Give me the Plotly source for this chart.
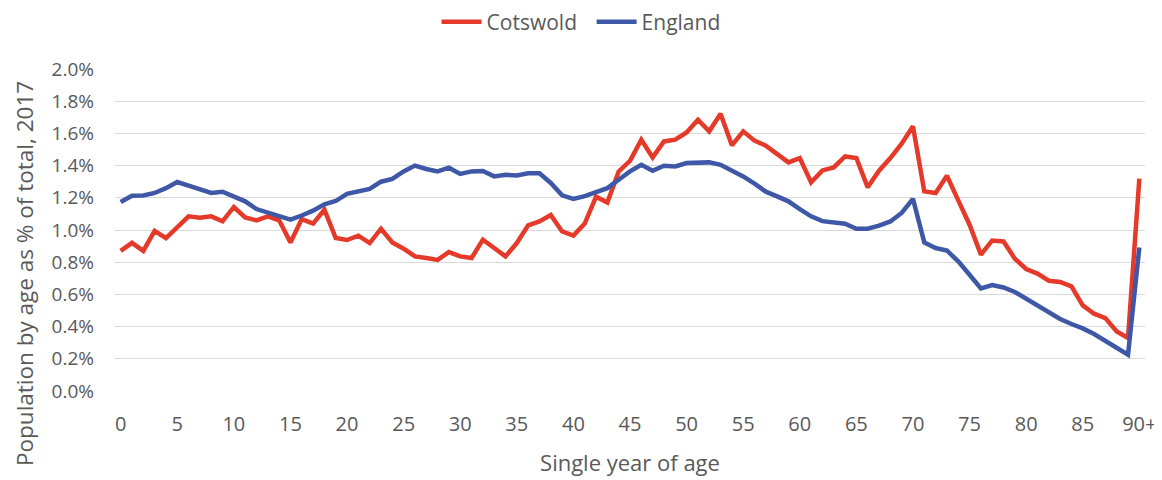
import plotly.graph_objects as go

# Categories: single year of age
ages = [str(a) for a in range(90)] + ["90+"]

# Population by age as % of total, 2017
cotswold = [
    0.87, 0.92, 0.87, 0.995, 0.95, 1.02, 1.085, 1.076, 1.085, 1.054,
    1.143, 1.078, 1.06, 1.085, 1.06, 0.923, 1.068, 1.04, 1.126, 0.95,
    0.938, 0.965, 0.919, 1.008, 0.923, 0.884, 0.836, 0.826, 0.814, 0.863,
    0.836, 0.826, 0.94, 0.888, 0.836, 0.919, 1.029, 1.053, 1.093, 0.991,
    0.965, 1.04, 1.207, 1.171, 1.364, 1.43, 1.561, 1.451, 1.55, 1.561,
    1.606, 1.685, 1.613, 1.722, 1.526, 1.613, 1.555, 1.524, 1.468, 1.42,
    1.447, 1.296, 1.37, 1.389, 1.457, 1.447, 1.265, 1.368, 1.447, 1.536,
    1.644, 1.24, 1.23, 1.337, 1.184, 1.033, 0.847, 0.935, 0.929, 0.822,
    0.758, 0.729, 0.685, 0.677, 0.65, 0.532, 0.48, 0.453, 0.37, 0.329,
    1.319,
]
england = [
    1.174, 1.213, 1.215, 1.23, 1.26, 1.298, 1.275, 1.25, 1.23, 1.238,
    1.205, 1.178, 1.13, 1.11, 1.085, 1.064, 1.09, 1.12, 1.16, 1.18,
    1.225, 1.24, 1.255, 1.30, 1.317, 1.364, 1.40, 1.379, 1.364, 1.387,
    1.348, 1.364, 1.366, 1.333, 1.343, 1.339, 1.352, 1.352, 1.292, 1.215,
    1.193, 1.21, 1.234, 1.26, 1.312, 1.364, 1.405, 1.368, 1.399, 1.395,
    1.416, 1.416, 1.42, 1.405, 1.37, 1.333, 1.288, 1.238, 1.209, 1.178,
    1.13, 1.085, 1.055, 1.05, 1.039, 1.008, 1.008, 1.027, 1.053, 1.106,
    1.193, 0.923, 0.888, 0.873, 0.805, 0.722, 0.637, 0.658, 0.643, 0.615,
    0.573, 0.536, 0.494, 0.447, 0.416, 0.389, 0.354, 0.312, 0.265, 0.225,
    0.892,
]

x_tick_labels = ages[::5] + ["90+"]
y_tick_values = [0.0, 0.2, 0.4, 0.6, 0.8, 1.0, 1.2, 1.4, 1.6, 1.8, 2.0]
y_tick_labels = ["0.0%", "0.2%", "0.4%", "0.6%", "0.8%", "1.0%",
                 "1.2%", "1.4%", "1.6%", "1.8%", "2.0%"]

FONT = "Open Sans, Segoe UI, Arial, sans-serif"
GREY = "#595959"

fig = go.Figure()
fig.add_trace(go.Scatter(x=ages, y=cotswold, name="Cotswold", mode="lines",
                         line=dict(color="#E5392A", width=4.5)))
fig.add_trace(go.Scatter(x=ages, y=england, name="England", mode="lines",
                         line=dict(color="#3E57A6", width=4.5)))

# the page body adds an 8px offset, so the figure is 8px smaller than the window
W, H = 1154, 472
L, R, T, B = 107, 17, 61, 89
pw, ph = W - L - R, H - T - B

def px_x(px):
    return (px - L) / pw

def px_y(py):
    return (H - B - py) / ph

fig.update_layout(
    width=W, height=H,
    margin=dict(l=L, r=R, t=T, b=B, autoexpand=False),
    paper_bgcolor="white", plot_bgcolor="white",
    font=dict(family=FONT, color=GREY),
    showlegend=True,
    legend=dict(orientation="h", xref="container", yref="container",
                x=0.5057, y=1 - 14 / H, xanchor="center", yanchor="middle",
                font=dict(size=21, color=GREY), itemwidth=40,
                entrywidth=100, entrywidthmode="pixels",
                traceorder="normal"),
    xaxis=dict(type="category", range=[-0.5, 90.5],
               tickmode="array", tickvals=x_tick_labels, ticktext=x_tick_labels,
               showgrid=False, showline=False, zeroline=False, ticks="",
               tickfont=dict(size=20, color=GREY), ticklabelstandoff=19,
               title=dict(text="Single year of age", font=dict(size=22, color=GREY),
                          standoff=19)),
    yaxis=dict(range=[0, 2.0], tickmode="array", tickvals=y_tick_values,
               ticktext=y_tick_labels,
               showgrid=True, gridcolor="#D9D9D9", gridwidth=1.3,
               zeroline=False, showline=False, ticks="",
               tickfont=dict(size=19, color=GREY), ticklabelstandoff=20),
    annotations=[dict(text="Population by age as % of total, 2017",
                      xref="paper", yref="paper", x=px_x(16), y=px_y(266),
                      xanchor="center", yanchor="middle", textangle=-90,
                      showarrow=False, font=dict(size=22.5, color=GREY, family=FONT))],
)

fig.write_html("out.html")
